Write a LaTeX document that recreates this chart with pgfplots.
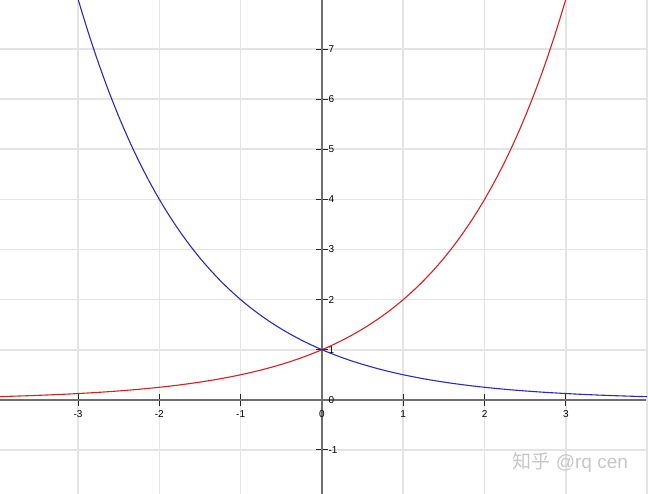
\documentclass[border=0pt]{standalone}
\usepackage{pgfplots}
\pgfplotsset{compat=1.18}
\usepackage{fontspec}
\setmainfont{Liberation Sans}
\newfontfamily\cjk{Noto Sans CJK SC}
\definecolor{gridc}{HTML}{E4E4E4}
\definecolor{axc}{HTML}{6E6E6E}
\definecolor{redc}{HTML}{D42020}
\definecolor{bluec}{HTML}{2A2ABE}
\begin{document}
\begin{tikzpicture}
\begin{axis}[
  scale only axis, width=648pt, height=494pt,
  xmin=-3.96, xmax=4.01, ymin=-1.88, ymax=7.98,
  axis lines=middle,
  axis line style={-, axc, line width=1.6pt},
  xtick={-3,-2,-1,0,1,2,3},
  ytick={-1,0,1,2,3,4,5,6,7},
  extra x ticks={-4,4}, extra x tick labels={},
  extra x tick style={major tick length=0pt},
  hide obscured x ticks=false, hide obscured y ticks=false,
  grid=major,
  major grid style={gridc, line width=1.6pt},
  xtick align=center,
  ytick align=center,
  major tick length=12pt,
  tick style={black!85, line width=0.9pt},
  ticklabel style={font=\fontsize{10}{11}\selectfont, text=black},
  yticklabel style={anchor=west, xshift=9pt},
  xticklabel style={yshift=-1pt},
  /pgf/number format/assume math mode=true,
  clip=true,
]
\addplot[redc, line width=1.1pt, smooth] coordinates {
(-4,0.0625) (-3.875,0.06816) (-3.75,0.07433) (-3.625,0.08105) (-3.5,0.08839)
(-3.375,0.09639) (-3.25,0.10511) (-3.125,0.11463) (-3,0.125) (-2.875,0.13631)
(-2.75,0.14865) (-2.625,0.16210) (-2.5,0.17678) (-2.375,0.19278) (-2.25,0.21022)
(-2.125,0.22925) (-2,0.25) (-1.875,0.27263) (-1.75,0.29730) (-1.625,0.32420)
(-1.5,0.35355) (-1.375,0.38555) (-1.25,0.42045) (-1.125,0.45850) (-1,0.5)
(-0.875,0.54525) (-0.75,0.59460) (-0.625,0.64842) (-0.5,0.70711) (-0.375,0.77111)
(-0.25,0.84090) (-0.125,0.91700) (0,1) (0.125,1.09051) (0.25,1.18921)
(0.375,1.29684) (0.5,1.41421) (0.625,1.54221) (0.75,1.68179) (0.875,1.83401)
(1,2) (1.125,2.18102) (1.25,2.37841) (1.375,2.59368) (1.5,2.82843)
(1.625,3.08442) (1.75,3.36359) (1.875,3.66802) (2,4) (2.125,4.36203)
(2.25,4.75683) (2.375,5.18736) (2.5,5.65685) (2.625,6.16884) (2.75,6.72717)
(2.875,7.33603) (3,8) (3.125,8.72406)
};
\addplot[bluec, line width=1.1pt, smooth] coordinates {
(4,0.0625) (3.875,0.06816) (3.75,0.07433) (3.625,0.08105) (3.5,0.08839)
(3.375,0.09639) (3.25,0.10511) (3.125,0.11463) (3,0.125) (2.875,0.13631)
(2.75,0.14865) (2.625,0.16210) (2.5,0.17678) (2.375,0.19278) (2.25,0.21022)
(2.125,0.22925) (2,0.25) (1.875,0.27263) (1.75,0.29730) (1.625,0.32420)
(1.5,0.35355) (1.375,0.38555) (1.25,0.42045) (1.125,0.45850) (1,0.5)
(0.875,0.54525) (0.75,0.59460) (0.625,0.64842) (0.5,0.70711) (0.375,0.77111)
(0.25,0.84090) (0.125,0.91700) (0,1) (-0.125,1.09051) (-0.25,1.18921)
(-0.375,1.29684) (-0.5,1.41421) (-0.625,1.54221) (-0.75,1.68179) (-0.875,1.83401)
(-1,2) (-1.125,2.18102) (-1.25,2.37841) (-1.375,2.59368) (-1.5,2.82843)
(-1.625,3.08442) (-1.75,3.36359) (-1.875,3.66802) (-2,4) (-2.125,4.36203)
(-2.25,4.75683) (-2.375,5.18736) (-2.5,5.65685) (-2.625,6.16884) (-2.75,6.72717)
(-2.875,7.33603) (-3,8) (-3.125,8.72406)
};
\node[text=black!22, font=\fontsize{19}{20}\selectfont] at (rel axis cs:0.88,0.063) {{\cjk 知乎} @rq cen};
\end{axis}
\pgfresetboundingbox
\useasboundingbox (current axis.south west) rectangle (current axis.north east);
\end{tikzpicture}
\end{document}
